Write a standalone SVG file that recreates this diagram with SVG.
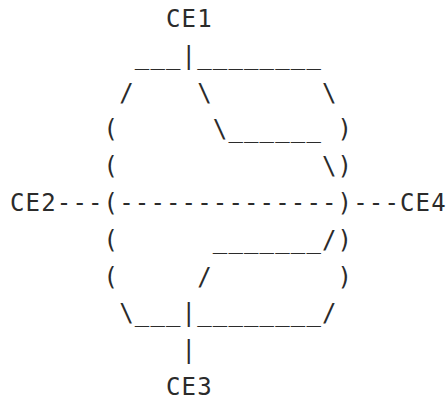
<svg xmlns="http://www.w3.org/2000/svg" width="448" height="401" viewBox="0 0 448 401">
<style>
text{font-family:"DejaVu Sans Mono","Liberation Mono",monospace;font-size:24px;letter-spacing:1.15px;fill:#2b2b2b;white-space:pre}
</style>
<rect width="448" height="401" fill="#ffffff"/>
<g id="CE1"><text x="166" y="27">CE1</text></g>
<g id="CE2"><text x="10" y="211">CE2</text></g>
<g id="CE3"><text x="166" y="395">CE3</text></g>
<g id="CE4"><text x="400" y="211">CE4</text></g>
<g id="connectors" xml:space="preserve">
<text x="134.8" y="63.8">___|________</text>
<text x="119.2" y="100.6">/    \       \</text>
<text x="103.6" y="137.4">(      \______ )</text>
<text x="103.6" y="174.2">(             \)</text>
<text x="56.8" y="211">---(--------------)---</text>
<text x="103.6" y="247.8">(      _______/)</text>
<text x="103.6" y="284.6">(     /        )</text>
<text x="119.2" y="321.4">\___|________/</text>
<text x="181.6" y="358.2">|</text>
</g>
</svg>
